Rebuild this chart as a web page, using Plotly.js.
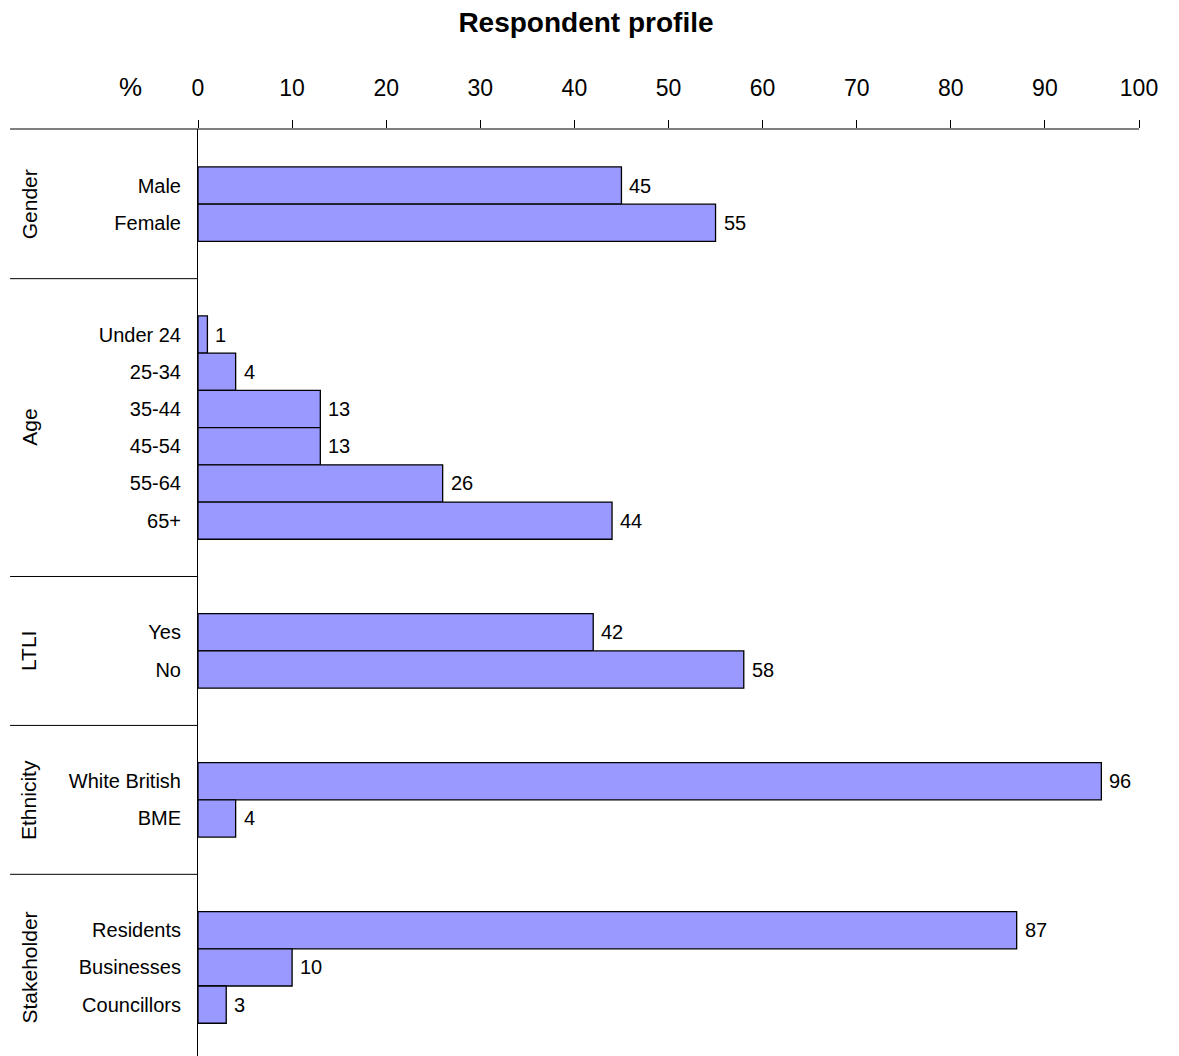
<!DOCTYPE html>
<html>
<head>
<meta charset="utf-8">
<script src="https://cdn.plot.ly/plotly-3.0.1.min.js"></script>
<style>
  html, body { margin: 0; padding: 0; background: #ffffff; }
  #chart { width: 1179px; height: 1056px; }
</style>
</head>
<body>
<div id="chart"></div>
<script>
// Respondent profile: share of respondents (%) per category, grouped
const groupNames = ['Gender', 'Age', 'LTLI', 'Ethnicity', 'Stakeholder'];

const genderLabels = ['Male', 'Female'];
const genderValues = [45, 55];

const ageLabels = ['Under 24', '25-34', '35-44', '45-54', '55-64', '65+'];
const ageValues = [1, 4, 13, 13, 26, 44];

const ltliLabels = ['Yes', 'No'];
const ltliValues = [42, 58];

const ethnicityLabels = ['White British', 'BME'];
const ethnicityValues = [96, 4];

const stakeholderLabels = ['Residents', 'Businesses', 'Councillors'];
const stakeholderValues = [87, 10, 3];

const xTicks = [0, 10, 20, 30, 40, 50, 60, 70, 80, 90, 100];

// ---- build row positions: one row per category, two blank rows between groups
const groupLabels = [genderLabels, ageLabels, ltliLabels, ethnicityLabels, stakeholderLabels];
const groupValues = [genderValues, ageValues, ltliValues, ethnicityValues, stakeholderValues];

const rowPos = [], rowText = [], rowVal = [];
const groupCentres = [], separators = [];
let pos = 0;
groupLabels.forEach((labels, g) => {
  const first = pos;
  labels.forEach((lab, i) => {
    rowPos.push(pos);
    rowText.push(lab);
    rowVal.push(groupValues[g][i]);
    pos += 1;
  });
  const last = pos - 1;
  groupCentres.push((first + last) / 2);
  if (g < groupLabels.length - 1) separators.push(last + 1.5);
  pos += 2;
});
const lastRow = rowPos[rowPos.length - 1];
const yRange = [lastRow + 1.38, -1.52];   // reversed: first category at the top
const toPaperY = v => (v - yRange[0]) / (yRange[1] - yRange[0]);

const FONT = 'Liberation Sans, Arial, sans-serif';
const leftEdge = -0.1997;   // left end of the rule lines, in paper units

const trace = {
  type: 'bar',
  orientation: 'h',
  x: rowVal,
  y: rowPos,
  width: 1,
  marker: { color: '#9999FF', line: { color: '#000000', width: 1.3 } },
  hoverinfo: 'skip',
  cliponaxis: false
};

const annotations = [];
// value labels next to the bar ends
rowVal.forEach((v, i) => {
  annotations.push({
    x: v, y: rowPos[i], xref: 'x', yref: 'y',
    text: String(v), showarrow: false,
    xanchor: 'left', yanchor: 'middle', xshift: 6,
    font: { family: FONT, size: 20, color: '#000000' }
  });
});
// vertical group names
groupNames.forEach((name, g) => {
  annotations.push({
    x: (29 - 198) / 941.6, y: groupCentres[g], xref: 'paper', yref: 'y',
    text: name, showarrow: false, textangle: -90,
    xanchor: 'center', yanchor: 'middle',
    font: { family: FONT, size: 21, color: '#000000' }
  });
});
// unit label beside the top axis
annotations.push({
  x: (130 - 198) / 941.6, y: 1 + (129 - 87) / 927, xref: 'paper', yref: 'paper',
  text: '%', showarrow: false, xanchor: 'center', yanchor: 'middle',
  font: { family: FONT, size: 26, color: '#000000' }
});

const shapes = [];
// top rule running across the label column and the plot
shapes.push({
  type: 'line', xref: 'paper', yref: 'paper',
  x0: leftEdge, x1: 1, y0: 1, y1: 1,
  line: { color: '#000000', width: 1.2 }
});
// rules between groups in the label column
separators.forEach(s => {
  const py = toPaperY(s);
  shapes.push({
    type: 'line', xref: 'paper', yref: 'paper',
    x0: leftEdge, x1: 0, y0: py, y1: py,
    line: { color: '#000000', width: 1 }
  });
});

const layout = {
  width: 1179,
  height: 1056,
  margin: { l: 198, r: 40, t: 129, b: 0, pad: 0 },
  paper_bgcolor: '#ffffff',
  plot_bgcolor: '#ffffff',
  showlegend: false,
  bargap: 0,
  title: {
    text: 'Respondent profile',
    x: 0.497, xref: 'container', xanchor: 'center',
    y: 1 - 22 / 1056, yref: 'container', yanchor: 'middle',
    font: { family: FONT, size: 28, weight: 700, color: '#000000' }
  },
  xaxis: {
    side: 'top',
    range: [0, 100],
    tickvals: xTicks,
    ticktext: xTicks.map(String),
    ticks: 'outside', ticklen: 8, tickwidth: 1, tickcolor: '#000000',
    showgrid: false, zeroline: false, showline: false,
    tickfont: { family: FONT, size: 23, color: '#000000' },
    ticklabelstandoff: 15,
    fixedrange: true
  },
  yaxis: {
    range: yRange,
    tickvals: rowPos,
    ticktext: rowText,
    ticks: '',
    showgrid: false, zeroline: false,
    showline: true, linecolor: '#000000', linewidth: 1,
    tickfont: { family: FONT, size: 20, color: '#000000' },
    ticklabelstandoff: 12,
    fixedrange: true
  },
  annotations: annotations,
  shapes: shapes
};

Plotly.newPlot('chart', [trace], layout, { displayModeBar: false, staticPlot: true });
</script>
</body>
</html>
